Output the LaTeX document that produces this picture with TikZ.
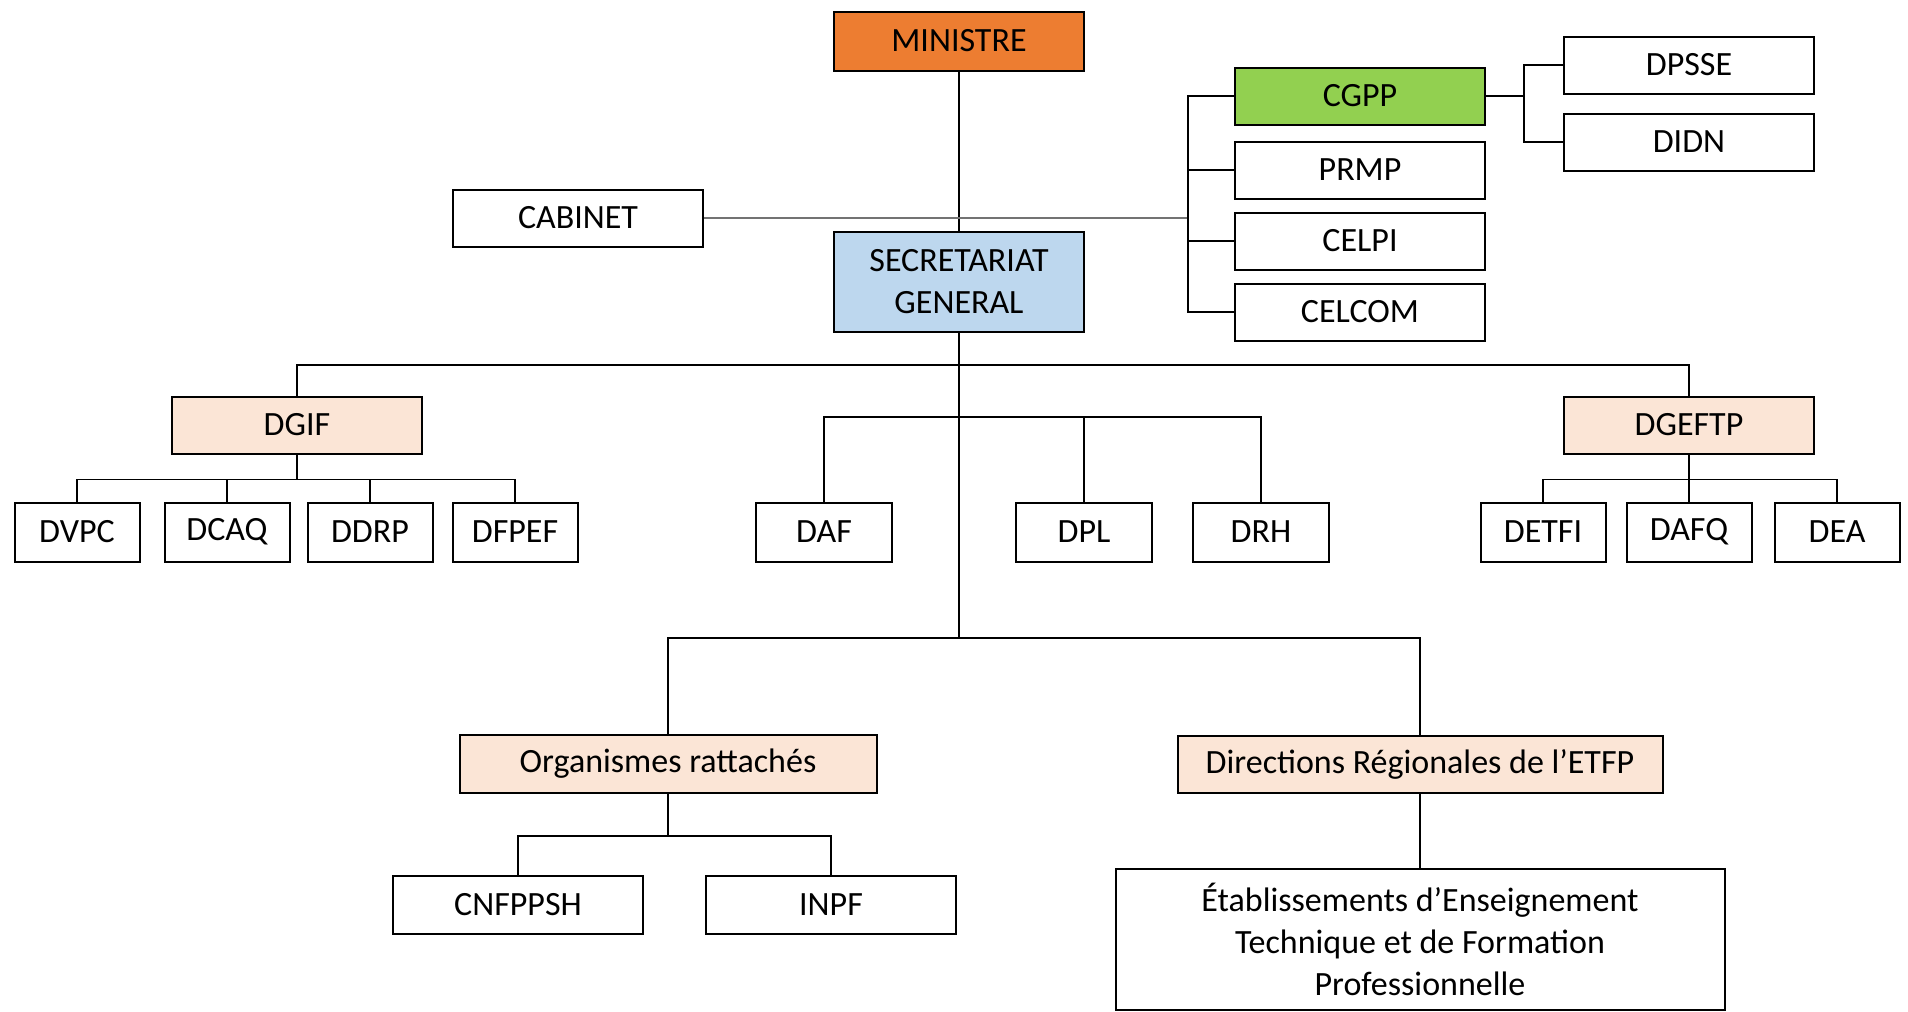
\documentclass[tikz,border=0pt]{standalone}
\usepackage{fontspec}
\setmainfont{Carlito}
\definecolor{ministreOrange}{HTML}{ED7D31}
\definecolor{sgBlue}{HTML}{BDD7EE}
\definecolor{cgppGreen}{HTML}{92D050}
\definecolor{dirPeach}{HTML}{FBE5D6}

\begin{document}
\def\mainBusY{365}
\def\dafBusY{417}
\def\lowBusY{638}

\begin{tikzpicture}[x=0.5pt, y=-0.5pt,
    unit/.style={draw, line width=1pt, inner sep=0pt, align=center,
      minimum width=125pt, minimum height=28.5pt,
      font=\fontsize{17}{21}\selectfont},
    smallunit/.style={unit, minimum width=62.5pt, minimum height=29.5pt},
    link/.style={line width=0.8pt},
    faintlink/.style={line width=0.6pt, black!55}
  ]
      \useasboundingbox (0,0) rectangle (1908,1012);

      % Top level
      \node[unit, fill=ministreOrange, minimum height=29.5pt] (ministre) at (959, 41) {MINISTRE};
      \node[unit] (cabinet) at (578, 218) {CABINET};
      \node[unit, fill=sgBlue, minimum height=50pt] (secretariat) at (959, 282)
        {SECRETARIAT\\GENERAL};

      \node[unit, fill=cgppGreen] (cgpp) at (1360, 96) {CGPP};
      \node[unit] (prmp) at (1360, 170) {PRMP};
      \node[unit] (celpi) at (1360, 241) {CELPI};
      \node[unit] (celcom) at (1360, 312) {CELCOM};
      \node[unit] (dpsse) at (1689, 65) {DPSSE};
      \node[unit] (didn) at (1689, 142) {DIDN};

      % Directions generales
      \node[unit, fill=dirPeach] (dgif) at (297, 425) {DGIF};
      \node[smallunit] (dvpc) at (77, 532) {DVPC};
      \node[smallunit] (dcaq) at (227, 532) {DCAQ};
      \node[smallunit] (ddrp) at (370, 532) {DDRP};
      \node[smallunit] (dfpef) at (515, 532) {DFPEF};

      \node[smallunit, minimum width=68pt] (daf) at (824, 532) {DAF};
      \node[smallunit, minimum width=68pt] (dpl) at (1084, 532) {DPL};
      \node[smallunit, minimum width=68pt] (drh) at (1261, 532) {DRH};

      \node[unit, fill=dirPeach] (dgeftp) at (1689, 425) {DGEFTP};
      \node[smallunit] (detfi) at (1543, 532) {DETFI};
      \node[smallunit] (dafq) at (1689, 532) {DAFQ};
      \node[smallunit] (dea) at (1837, 532) {DEA};

      % Bottom part
      \node[unit, fill=dirPeach, minimum width=208.5pt, minimum height=29pt] (organismes)
        at (668, 764) {Organismes rattachés};
      \node[unit, fill=dirPeach, minimum width=242.5pt] (directions)
        at (1420, 764) {Directions Régionales de l’ETFP};
      \node[unit, minimum height=29pt] (cnfppsh) at (518, 905) {CNFPPSH};
      \node[unit, minimum height=29pt] (inpf) at (831, 905) {INPF};
      \node[unit, minimum width=304.5pt, minimum height=70.5pt] (etablissements)
        at (1420, 939)
        {Établissements d’Enseignement\\Technique et de Formation\\Professionnelle};

      % Junctions
      \coordinate (mainBus) at (959, \mainBusY);
      \coordinate (dafBus) at (959, \dafBusY);
      \coordinate (lowBus) at (959, \lowBusY);
      \coordinate (bracketX) at (1188, 0);

      \draw[link] (ministre) -- (secretariat);
      \draw[link] (secretariat.south) -- (lowBus);
      \draw[faintlink] (cabinet.east) -- (cabinet.east -| bracketX);

      \draw[link]
        (cgpp.west) -- (cgpp.west -| bracketX) |- (celcom.west)
        (prmp.west) -- (prmp.west -| bracketX)
        (celpi.west) -- (celpi.west -| bracketX)
      ;
      \draw[link]
        (cgpp.east) -- ++(39,0)
        (dpsse.west) -- ++(-39,0) |- (didn.west)
      ;

      \draw[link] (dgif.north) |- (mainBus) -| (dgeftp.north);
      \draw[link] (daf.north) |- (dafBus) -| (drh.north);
      \draw[link] (dpl.north) -- (dpl.north |- dafBus);

      \foreach \n in {dvpc, dcaq, ddrp, dfpef}
        \draw[link] (dgif.south) -- ++(0,25) -| (\n.north);
      \foreach \n in {detfi, dafq, dea}
        \draw[link] (dgeftp.south) -- ++(0,25) -| (\n.north);

      \draw[link] (organismes.north) |- (lowBus) -| (directions.north);
      \foreach \n in {cnfppsh, inpf}
        \draw[link] (organismes.south) -- ++(0,42) -| (\n.north);
      \draw[link] (directions) -- (etablissements);
    \end{tikzpicture}
\end{document}
